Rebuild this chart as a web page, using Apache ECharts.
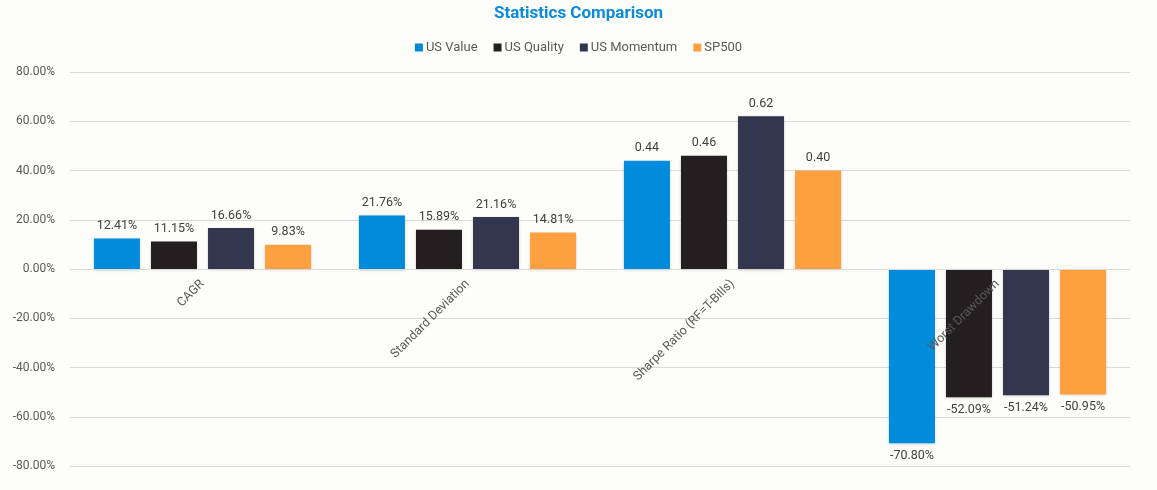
<!DOCTYPE html>
<html><head><meta charset="utf-8">
<script src="https://cdn.jsdelivr.net/npm/echarts@6/dist/echarts.min.js"></script>
<style>html,body{margin:0;padding:0;background:#fdfdfa}#c{width:1157px;height:490px}</style>
</head><body><div id="c"></div>
<script>
const categories = ['CAGR', 'Standard Deviation', 'Sharpe Ratio (RF=T-Bills)', 'Worst Drawdown'];
const seriesNames = ['US Value', 'US Quality', 'US Momentum', 'SP500'];
// values as displayed (percent for CAGR/StdDev/Drawdown, ratio for Sharpe)
const usValue = [12.41, 21.76, 0.44, -70.80];
const usQuality = [11.15, 15.89, 0.46, -52.09];
const usMomentum = [16.66, 21.16, 0.62, -51.24];
const sp500 = [9.83, 14.81, 0.40, -50.95];
const colors = ['#008cdb', '#231f20', '#32374d', '#ffa040'];
const yTicks = [-80, -60, -40, -20, 0, 20, 40, 60, 80];
const ratioIndex = 2;

const all = [usValue, usQuality, usMomentum, sp500];
const chart = echarts.init(document.getElementById('c'));
const gridTop = 72, gridBottom = 24, H = 490;
const plotH = H - gridTop - gridBottom;
const yMin = yTicks[0], yMax = yTicks[yTicks.length - 1];
// distance from grid bottom to the zero line, via the value scale proportion
const zeroOffset = -plotH * (0 - yMin) / (yMax - yMin);
chart.setOption({
  backgroundColor: '#fdfdfa',
  animation: false,
  textStyle: { fontFamily: 'Roboto' },
  title: { text: 'Statistics Comparison', left: 'center', top: 0,
    textStyle: { color: '#0a8cdc', fontSize: 17, fontWeight: 'bold', fontFamily: 'Roboto' } },
  legend: { top: 36, left: 'center', itemWidth: 8, itemHeight: 8, itemGap: 16, icon: 'rect',
    textStyle: { color: '#595959', fontSize: 13, padding: [0, 0, 0, -2] } },
  grid: { left: 70, right: 27, top: gridTop, bottom: gridBottom, containLabel: false, outerBoundsMode: 'none' },
  xAxis: { type: 'category', data: categories, offset: zeroOffset, z: 10,
    axisLine: { onZero: false, lineStyle: { color: '#d9d9d9' } },
    axisTick: { show: false },
    axisLabel: { rotate: 45, color: '#595959', fontSize: 12.5, margin: 13, interval: 0 } },
  yAxis: { type: 'value', min: yMin, max: yMax, interval: 20,
    axisLabel: { color: '#595959', fontSize: 12, margin: 15, formatter: v => v.toFixed(2) + '%' },
    axisLine: { show: false }, axisTick: { show: false },
    splitLine: { lineStyle: { color: '#d9d9d9' } } },
  series: all.map((arr, i) => ({
    name: seriesNames[i], type: 'bar', barWidth: 46, barGap: '24%',
    itemStyle: { color: colors[i], shadowBlur: 3, shadowColor: 'rgba(0,0,0,0.25)', shadowOffsetY: 1 },
    label: { show: true, position: 'outside', color: '#404040', fontSize: 12.5, distance: 6,
      formatter: p => p.dataIndex === ratioIndex ? arr[p.dataIndex].toFixed(2) : arr[p.dataIndex].toFixed(2) + '%' },
    data: arr.map((v, j) => j === ratioIndex ? v * 100 : v)
  }))
});
</script></body></html>
